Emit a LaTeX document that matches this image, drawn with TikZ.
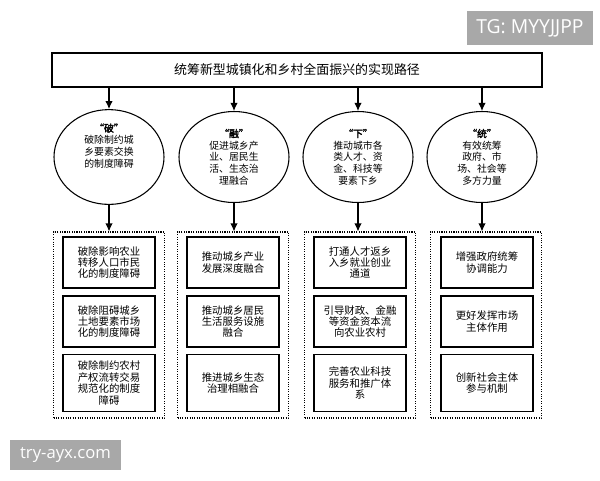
\documentclass[tikz,border=0pt]{standalone}
\usepackage{fontspec}
\setmainfont{Noto Sans CJK SC}[AutoFakeBold=2.5]
\newfontfamily\markfont{Open Sans}
\usetikzlibrary{arrows.meta,shapes.geometric}
\definecolor{MarkGray}{HTML}{A8A8A8}

\begin{document}
\begin{tikzpicture}[x=0.75pt,y=0.75pt,yscale=-1,xscale=1,
	titlebox/.style={draw, line width=0.8pt, minimum width=367.5pt, minimum height=25.5pt, inner sep=0pt, font=\fontsize{9.7}{11}\selectfont},
	aimball/.style={draw, ellipse, line width=0.8pt, minimum width=82.5pt, minimum height=68.25pt, inner sep=0pt, align=center, font=\fontsize{7.4}{8.8}\selectfont},
	groupbox/.style={draw, densely dotted, line width=0.8pt, minimum width=83.25pt, minimum height=139.5pt, inner sep=0pt},
	stepbox/.style={draw, line width=0.8pt, minimum width=69pt, minimum height=38.25pt, inner sep=0pt, align=center, font=\fontsize{7.8}{8.6}\selectfont},
	tallbox/.style={stepbox, minimum height=42.75pt},
	feed/.style={line width=0.8pt, -{Latex[length=6pt,width=5.5pt]}},
	markbox/.style={fill=MarkGray, text=white, inner sep=0pt}]
		% Uncomment if required: \path (0,480); % Set diagram left start at 0, and has height of 480
		\useasboundingbox (0,0) rectangle (600,480);

		% The title box on top
		\node[titlebox] (title) at (297,70) {统筹新型城镇化和乡村全面振兴的实现路径};

		% The four ellipses "破, 融, 下, 统"
		\node[aimball] (po) at (109,157) {\textbf{“破”}\\破除制约城\\乡要素交换\\的制度障碍\\[8.8pt]};
		\node[aimball] (rong) at (234,157) {\textbf{“融”}\\促进城乡产\\业、居民生\\活、生态治\\理融合};
		\node[aimball] (xia) at (358,157) {\textbf{“下”}\\推动城市各\\类人才、资\\金、科技等\\要素下乡};
		\node[aimball] (tong) at (482,157) {\textbf{“统”}\\有效统筹\\政府、市\\场、社会等\\多方力量};

		% Arrows from the title down to the ellipses
		\draw[feed] (title.south -| po) -- (po.north);
		\draw[feed] (title.south -| rong) -- (rong.north);
		\draw[feed] (title.south -| xia) -- (xia.north);
		\draw[feed] (title.south -| tong) -- (tong.north);

		% The dotted group boxes below each ellipse
		\node[groupbox] (gpo) at (109,325) {};
		\node[groupbox] (grong) at (233,325) {};
		\node[groupbox] (gxia) at (360,325) {};
		\node[groupbox] (gtong) at (486,325) {};

		% Arrows from the ellipses down to the group boxes
		\draw[feed] (po.south) -- (gpo.north -| po);
		\draw[feed] (rong.south) -- (grong.north -| rong);
		\draw[feed] (xia.south) -- (gxia.north -| xia);
		\draw[feed] (tong.south) -- (gtong.north -| tong);

		% Steps of "破"
		\node[stepbox] (po1) at (109,262.5) {破除影响农业\\转移人口市民\\化的制度障碍};
		\node[stepbox] (po2) at (109,321.5) {破除阻碍城乡\\土地要素市场\\化的制度障碍};
		\node[tallbox] (po3) at (109,383) {破除制约农村\\产权流转交易\\规范化的制度\\障碍};

		% Steps of "融"
		\node[stepbox] (rong1) at (233,262.5) {推动城乡产业\\发展深度融合};
		\node[stepbox] (rong2) at (233,321.5) {推动城乡居民\\生活服务设施\\融合};
		\node[tallbox] (rong3) at (233,383) {推进城乡生态\\治理相融合};

		% Steps of "下"
		\node[stepbox] (xia1) at (360,262.5) {打通人才返乡\\入乡就业创业\\通道};
		\node[stepbox] (xia2) at (360,321.5) {引导财政、金融\\等资金资本流\\向农业农村};
		\node[tallbox] (xia3) at (360,383) {完善农业科技\\服务和推广体\\系};

		% Steps of "统"
		\node[stepbox] (tong1) at (487,262.5) {增强政府统筹\\协调能力};
		\node[stepbox] (tong2) at (487,321.5) {更好发挥市场\\主体作用};
		\node[tallbox] (tong3) at (487,383) {创新社会主体\\参与机制};

		% The grey marks in the corners
		\node[markbox, minimum width=94.5pt, minimum height=25.5pt, font=\markfont\fontsize{14.5}{16}\selectfont] (tgmark) at (530,28) {TG: MYYJJPP};
		\node[markbox, minimum width=83.25pt, minimum height=22.5pt, font=\markfont\fontsize{12.5}{14}\selectfont] (sitemark) at (65.5,455) {try-ayx.com};
	\end{tikzpicture}
\end{document}
